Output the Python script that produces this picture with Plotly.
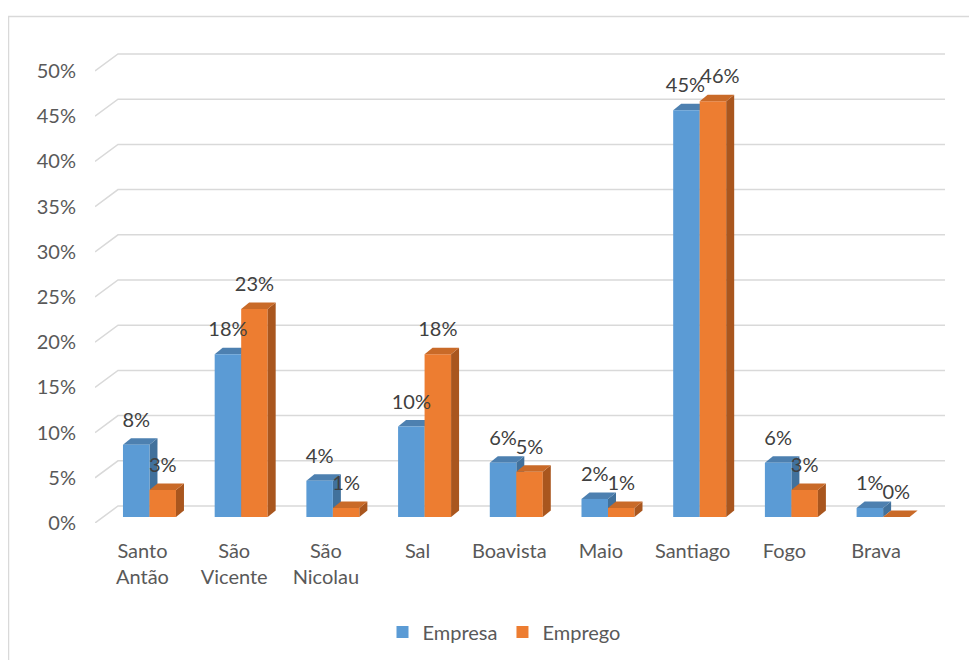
import plotly.graph_objects as go

# ---------------- data ----------------
categories = ["Santo<br>Antão", "São<br>Vicente", "São<br>Nicolau", "Sal", "Boavista",
              "Maio", "Santiago", "Fogo", "Brava"]
empresa = [8, 18, 4, 10, 6, 2, 45, 6, 1]
emprego = [3, 23, 1, 18, 5, 1, 46, 3, 0]
y_ticks = [0, 5, 10, 15, 20, 25, 30, 35, 40, 45, 50]
y_tick_labels = [f"{v}%" for v in y_ticks]

# ---------------- style / layout constants ----------------
FONT = "Lato"
W_FIG, H_FIG = 977, 660
L, R, T, B = 87, 40, 45, 145
PW = W_FIG - L - R
PH = H_FIG - T - B
X_RANGE = [-0.594, 8.675]
Y_RANGE = [-0.664, 51.33]
PX_X = PW / (X_RANGE[1] - X_RANGE[0])   # pixels per x unit
PX_Y = PH / (Y_RANGE[1] - Y_RANGE[0])   # pixels per y unit

BAR_W = 26.5 / PX_X          # width of one bar in x units
DEP_X = 8.0 / PX_X           # 3-D depth offset of bars
DEP_Y = 6.5 / PX_Y
GRID_BACK_X = 23.0 / PX_X    # wall offsets for gridlines
GRID_FRONT_Y = -6.0 / PX_Y
GRID_BACK_Y = 11.0 / PX_Y
LABEL_Y = 23.0 / PX_Y
LABEL_NUDGE_PX = {6: (-1, 7)}   # small horizontal nudges (px) for crowded label pairs

BLUE, BLUE_TOP, BLUE_SIDE = "#5B9BD5", "#4D80B0", "#41719C"
ORANGE, ORANGE_TOP, ORANGE_SIDE = "#ED7D31", "#C96A28", "#A9561E"
GRID = "#D9D9D9"
TXT = "#595959"

x_idx = list(range(len(categories)))

fig = go.Figure()
fig.add_trace(go.Bar(x=x_idx, y=empresa, name="Empresa", marker=dict(color=BLUE, line=dict(width=0)),
                     hoverinfo="skip"))
fig.add_trace(go.Bar(x=x_idx, y=emprego, name="Emprego", marker=dict(color=ORANGE, line=dict(width=0)),
                     hoverinfo="skip"))

# data labels
for k, (vals, sign) in enumerate(((empresa, -1), (emprego, 1))):
    fig.add_trace(go.Scatter(
        x=[i + sign * BAR_W / 2 + LABEL_NUDGE_PX.get(i, (0, 0))[k] / PX_X for i in x_idx],
        y=[v + LABEL_Y for v in vals],
        mode="text", text=[f"{v}%" for v in vals], textposition="middle center",
        textfont=dict(family=FONT, size=20, color="#404040"),
        showlegend=False, hoverinfo="skip"))

shapes = []
# gridlines (front diagonal + back wall)
for v in y_ticks:
    x0 = X_RANGE[0]
    x1 = X_RANGE[0] + GRID_BACK_X
    x2 = X_RANGE[1]
    y0 = v + GRID_FRONT_Y
    y1 = v + GRID_BACK_Y
    shapes.append(dict(type="path", xref="x", yref="y", layer="below",
                       path=f"M{x0},{y0} L{x1},{y1} L{x2},{y1}",
                       line=dict(color=GRID, width=1.5)))


def faces(a, b, v, top_c, side_c, layer):
    top = f"M{a},{v} L{b},{v} L{b + DEP_X},{v + DEP_Y} L{a + DEP_X},{v + DEP_Y} Z"
    side = f"M{b},0 L{b},{v} L{b + DEP_X},{v + DEP_Y} L{b + DEP_X},{DEP_Y} Z"
    return [dict(type="path", xref="x", yref="y", layer=layer, path=side,
                 fillcolor=side_c, line=dict(width=0)),
            dict(type="path", xref="x", yref="y", layer=layer, path=top,
                 fillcolor=top_c, line=dict(width=0))]


for i, v in zip(x_idx, empresa):
    shapes += faces(i - BAR_W, i, v, BLUE_TOP, BLUE_SIDE, "below")
for i, v in zip(x_idx, emprego):
    shapes += faces(i, i + BAR_W, v, ORANGE_TOP, ORANGE_SIDE, "above")

# chart border
shapes.append(dict(type="rect", xref="paper", yref="paper",
                   x0=(0.5 - L) / PW, x1=(1040 - L) / PW,
                   y0=(H_FIG - B - 720) / PH, y1=(H_FIG - B - 8.5) / PH,
                   line=dict(color=GRID, width=1.5), fillcolor="rgba(0,0,0,0)"))

fig.update_layout(
    width=W_FIG, height=H_FIG,
    margin=dict(l=L, r=R, t=T, b=B),
    paper_bgcolor="white", plot_bgcolor="white",
    barmode="group", bargap=1 - 2 * BAR_W, bargroupgap=0,
    shapes=shapes,
    font=dict(family=FONT, size=20, color=TXT),
    legend=dict(orientation="h", x=(496 - L) / PW, xanchor="center",
                y=(H_FIG - B - 624) / PH, yanchor="middle",
                font=dict(family=FONT, size=20, color=TXT), traceorder="normal"),
    xaxis=dict(range=X_RANGE, tickvals=x_idx, ticktext=categories, showgrid=False,
               zeroline=False, showline=False, ticks="", ticklabelshift=-7,
               ticklabelstandoff=14, tickfont=dict(family=FONT, size=20, color=TXT)),
    yaxis=dict(range=Y_RANGE, tickvals=y_ticks, ticktext=y_tick_labels, showgrid=False,
               zeroline=False, showline=False, ticks="", ticklabelshift=6,
               ticklabelstandoff=18, tickfont=dict(family=FONT, size=20, color=TXT)),
)

fig.write_html("out.html")
